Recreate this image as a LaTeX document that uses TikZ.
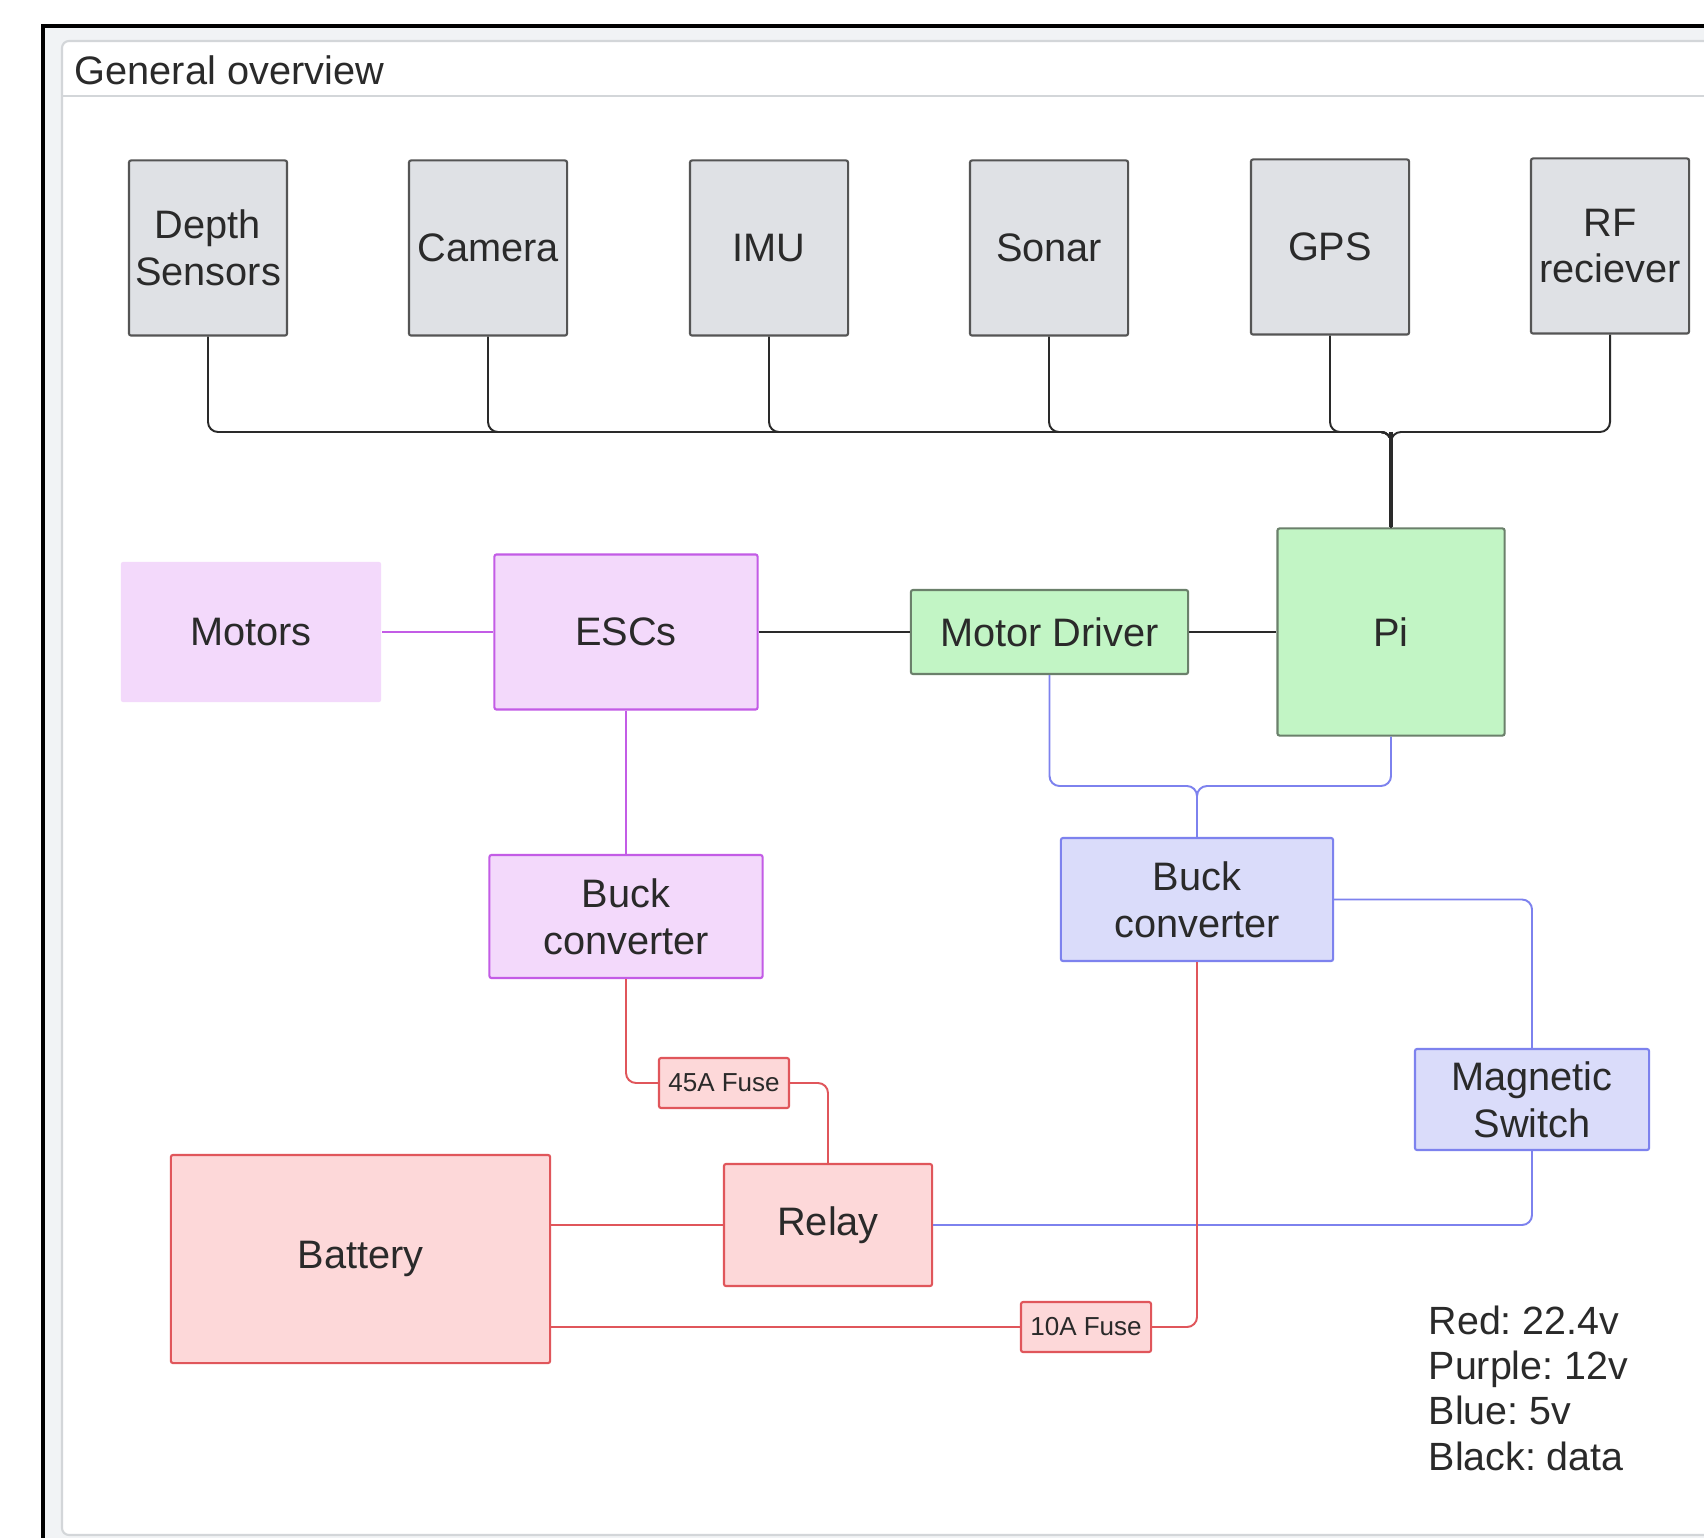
\documentclass[tikz,border=0pt]{standalone}
\usepackage{fontspec}
\setmainfont{Liberation Sans}
\usetikzlibrary{calc}
\frenchspacing

\definecolor{txt}{HTML}{2A2A2A}
\definecolor{sensfill}{HTML}{DFE1E5}
\definecolor{sensline}{HTML}{555555}
\definecolor{grfill}{HTML}{C2F5C5}
\definecolor{grline}{HTML}{6B806B}
\definecolor{pufill}{HTML}{F3D9FB}
\definecolor{puline}{HTML}{C35CE6}
\definecolor{blfill}{HTML}{DADCFA}
\definecolor{blline}{HTML}{7D82EE}
\definecolor{rdfill}{HTML}{FDD8D9}
\definecolor{rdline}{HTML}{E0565B}
\definecolor{framegray}{HTML}{F1F3F5}
\definecolor{panelline}{HTML}{D3D6D9}

\begin{document}
\begin{tikzpicture}[x=0.01cm, y=-0.01cm, inner sep=0pt,
  font=\fontsize{11.3}{13.3}\selectfont,
  box/.style={draw, rounded corners=0.6pt, line width=0.6pt, align=center, text=txt},
  sensor/.style={box, fill=sensfill, draw=sensline, minimum width=1.58cm, minimum height=1.75cm},
  ctrl/.style={box, fill=grfill, draw=grline},
  v12box/.style={box, fill=pufill, draw=puline},
  v5box/.style={box, fill=blfill, draw=blline},
  v22box/.style={box, fill=rdfill, draw=rdline},
  fusebox/.style={v22box, minimum width=1.30cm, minimum height=0.50cm, font=\fontsize{7.4}{9}\selectfont},
  data/.style={draw=txt, line width=0.55pt, rounded corners=0.1cm},
  v12/.style={draw=puline, line width=0.55pt},
  v5/.style={draw=blline, line width=0.55pt, rounded corners=0.1cm},
  v22/.style={draw=rdline, line width=0.55pt, rounded corners=0.1cm}]

\useasboundingbox (0,0) rectangle (1704,1537);
\clip (0,0) rectangle (1704,1537);

% frame
\fill[framegray] (43,26) rectangle (1760,1600);
\draw[black, line width=0.9pt] (1760,26) -- (43,26) -- (43,1600);
\draw[panelline, fill=white, line width=0.6pt, rounded corners=2pt] (62,41) rectangle (1760,1535);
\draw[panelline, line width=0.6pt] (62,96) -- (1760,96);
\node[anchor=base west, text=txt] (title) at (74,85) {General overview};

% sensors
\node[sensor] (dep) at (208,248) {Depth\\Sensors};
\node[sensor] (cam) at (488,248) {Camera};
\node[sensor] (imu) at (769,248) {IMU};
\node[sensor] (son) at (1049,248) {Sonar};
\node[sensor] (gps) at (1330,247) {GPS};
\node[sensor] (rf) at (1610,246) {RF\\reciever};

% control and drive
\node[ctrl, minimum width=2.27cm, minimum height=2.07cm] (pi) at (1391,632) {Pi};
\node[ctrl, minimum width=2.77cm, minimum height=0.84cm] (drv) at (1049.5,632) {Motor Driver};
\node[v12box, minimum width=2.63cm, minimum height=1.55cm] (esc) at (626,632) {ESCs};
\node[v12box, draw=none, minimum width=2.60cm, minimum height=1.40cm] (mot) at (251,632) {Motors};

% power
\node[v12box, minimum width=2.73cm, minimum height=1.23cm] (bk1) at (626,916.5) {Buck\\converter};
\node[v5box, minimum width=2.72cm, minimum height=1.23cm] (bk2) at (1197,899.5) {Buck\\converter};
\node[v5box, minimum width=2.34cm, minimum height=1.01cm] (mag) at (1532,1099.5) {Magnetic\\Switch};
\node[fusebox] (f45) at (724,1083) {45A Fuse};
\node[v22box, minimum width=2.08cm, minimum height=1.22cm] (rly) at (828,1225) {Relay};
\node[v22box, minimum width=3.79cm, minimum height=2.08cm] (bat) at (360.5,1259) {Battery};
\node[fusebox] (f10) at (1086,1327) {10A Fuse};

\node[anchor=north west, align=left, text=txt, font=\fontsize{11.2}{12.9}\selectfont] (key) at (1428,1305)
  {Red: 22.4v\\Purple: 12v\\Blue: 5v\\Black: data};

\coordinate (bus) at (1391,432);
\coordinate (hub) at (1197,786);

% data lines
\draw[data] (dep.south) |- (bus) -- (pi.north);
\draw[data] (cam.south) |- (bus) -- (pi.north);
\draw[data] (imu.south) |- (bus) -- (pi.north);
\draw[data] (son.south) |- (bus) -- (pi.north);
\draw[data] (gps.south) |- (bus) -- (pi.north);
\draw[data] (rf.south) |- (bus) -- (pi.north);
\draw[data, line width=1.1pt] (bus) -- (pi.north);
\draw[data] (esc.east) -- (drv.west);
\draw[data] (drv.east) -- (pi.west);

% 12v
\draw[v12] (mot.east) -- (esc.west);
\draw[v12] (esc.south) -- (bk1.north);

% 5v
\draw[v5] (drv.south) |- (hub) -- (bk2.north);
\draw[v5] (pi.south) |- (hub) -- (bk2.north);
\draw[v5] (bk2.east) -| (mag.north);
\draw[v5] (mag.south) |- (rly.east);

% 22.4v
\draw[v22] (bk1.south) |- (f45.west);
\draw[v22] (f45.east) -| (rly.north);
\draw[v22] (rly.west) -- (rly.west -| bat.east);
\draw[v22] (f10.west) -- (f10.west -| bat.east);
\draw[v22] (f10.east) -| (bk2.south);
\end{tikzpicture}
\end{document}
